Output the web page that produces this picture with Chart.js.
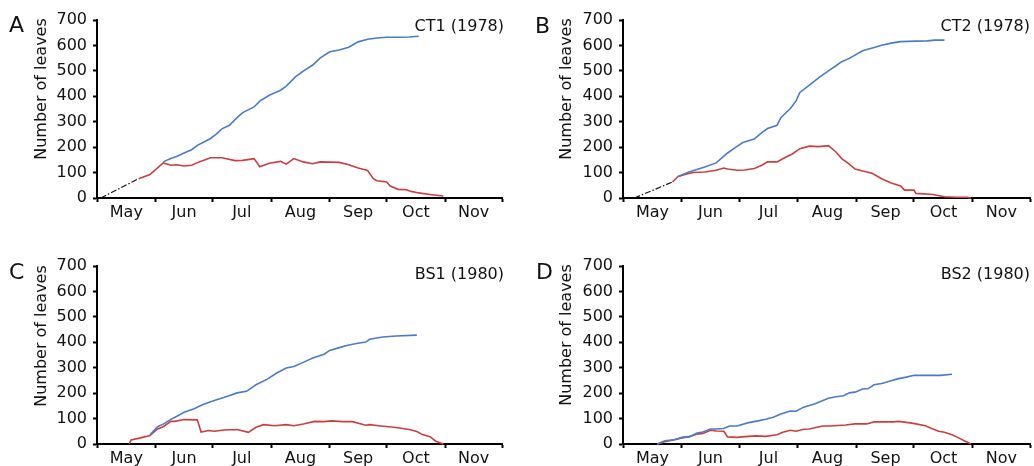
<!DOCTYPE html>
<html>
<head>
<meta charset="utf-8">
<script src="https://cdn.jsdelivr.net/npm/chart.js@4"></script>
<style>
  body { margin: 0; background: #fff; }
  #wrap { position: relative; width: 1034px; height: 466px; }
  .panel { position: absolute; width: 517px; height: 233px; }
</style>
</head>
<body>
<div id="wrap">
  <div class="panel" style="left:0;top:0"><canvas id="pA"></canvas></div>
  <div class="panel" style="left:517px;top:0"><canvas id="pB"></canvas></div>
  <div class="panel" style="left:0;top:233px"><canvas id="pC"></canvas></div>
  <div class="panel" style="left:517px;top:233px"><canvas id="pD"></canvas></div>
</div>
<script>
// x values are days after 1 May
const months = ["May", "Jun", "Jul", "Aug", "Sep", "Oct", "Nov"];
const monthStarts = [0, 31, 61, 92, 123, 153, 184, 214];
const yTicks = [0, 100, 200, 300, 400, 500, 600, 700];

// A - CT1 (1978)
const aBlackDays = [2, 22];
const aBlackVals = [0, 76];
const aBlueDays = [35, 39, 42, 46, 50, 53, 57, 60, 63, 66, 70, 74, 77, 83, 86, 91, 97, 100, 105, 109, 114, 118, 123, 128, 133, 138, 143, 148, 153, 160, 165, 170];
const aBlueVals = [142, 155, 163, 177, 190, 207, 222, 234, 251, 272, 286, 316, 336, 358, 381, 404, 424, 440, 477, 499, 523, 551, 575, 582, 593, 614, 624, 629, 632, 632, 633, 636];
const aRedDays = [22, 28, 35, 39, 42, 46, 50, 54, 60, 66, 73, 77, 83, 86, 91, 97, 100, 104, 109, 114, 118, 128, 133, 138, 143, 146, 148, 153, 155, 159, 163, 166, 170, 176, 183];
const aRedVals = [76, 92, 138, 129, 131, 126, 129, 142, 158, 158, 147, 148, 155, 123, 137, 144, 133, 155, 142, 135, 142, 140, 131, 118, 108, 76, 68, 63, 47, 34, 33, 26, 20, 14, 8];

// B - CT2 (1978)
const bBlackDays = [6, 26];
const bBlackVals = [0, 63];
const bBlueDays = [29, 34, 38, 43, 49, 55, 59, 63, 69, 73, 76, 81, 83, 88, 91, 93, 98, 103, 108, 112, 115, 119, 126, 132, 136, 141, 146, 154, 160, 164, 169];
const bBlueVals = [85, 100, 110, 122, 138, 177, 198, 218, 232, 257, 273, 286, 316, 352, 382, 415, 444, 473, 500, 520, 536, 549, 579, 592, 601, 609, 615, 617, 618, 621, 621];
const bRedDays = [26, 29, 34, 37, 43, 49, 53, 55, 60, 64, 69, 73, 76, 81, 85, 89, 93, 98, 103, 108, 112, 115, 119, 122, 126, 131, 136, 141, 146, 148, 153, 154, 163, 169, 175, 181, 183];
const bRedVals = [63, 85, 95, 100, 102, 109, 118, 114, 109, 110, 116, 129, 142, 142, 158, 173, 194, 204, 202, 206, 181, 155, 133, 114, 106, 97, 76, 59, 47, 31, 31, 18, 14, 5, 3, 3, 0];

// C - BS1 (1980)
const cBlueDays = [28, 32, 35, 39, 42, 46, 51, 56, 62, 69, 74, 79, 84, 90, 95, 100, 104, 109, 114, 120, 123, 128, 132, 137, 142, 144, 151, 158, 169];
const cBlueVals = [36, 68, 78, 97, 108, 125, 138, 155, 171, 188, 201, 207, 233, 255, 279, 299, 305, 321, 338, 353, 368, 379, 387, 395, 401, 412, 421, 425, 428];
const cRedDays = [17, 18, 23, 28, 32, 35, 39, 41, 46, 53, 55, 59, 62, 67, 74, 80, 84, 88, 94, 100, 104, 109, 115, 120, 124, 130, 135, 142, 144, 150, 157, 165, 169, 172, 176, 179, 183];
const cRedVals = [0, 16, 24, 33, 59, 68, 89, 89, 96, 95, 47, 53, 50, 55, 57, 46, 66, 76, 72, 76, 72, 79, 89, 88, 91, 88, 88, 74, 76, 71, 66, 57, 49, 37, 29, 11, 0];

// D - BS2 (1980)
const dBlueDays = [18, 22, 27, 31, 35, 39, 42, 46, 49, 53, 56, 60, 66, 71, 75, 79, 83, 88, 91, 95, 101, 108, 112, 116, 119, 122, 126, 129, 132, 136, 140, 145, 149, 153, 161, 167, 173];
const dBlueVals = [0, 13, 17, 26, 29, 43, 47, 59, 59, 61, 71, 71, 84, 91, 97, 105, 118, 130, 129, 145, 158, 180, 186, 190, 201, 204, 216, 218, 233, 238, 247, 257, 263, 270, 270, 270, 274];
const dRedDays = [18, 22, 27, 31, 35, 39, 42, 46, 49, 53, 55, 60, 64, 70, 75, 81, 84, 88, 91, 95, 98, 102, 105, 109, 117, 122, 128, 132, 136, 142, 145, 151, 154, 159, 162, 166, 169, 173, 176, 180, 183];
const dRedVals = [0, 9, 17, 24, 29, 39, 41, 54, 51, 50, 28, 26, 29, 32, 30, 36, 46, 54, 50, 58, 59, 66, 71, 71, 75, 79, 79, 87, 87, 87, 89, 83, 79, 72, 62, 50, 46, 36, 26, 11, 0];

const BLUE = "#4a7bc8";
const RED = "#cc3e3e";
const FONT = "'DejaVu Sans', sans-serif";

function pts(xs, ys) {
  return xs.map((x, i) => ({ x: x, y: ys[i] }));
}

// month boundaries get tick marks, month middles get the names
const monthMids = months.map((m, i) => (monthStarts[i] + monthStarts[i + 1]) / 2);

function makePanel(id, box, letter, title, series) {
  const W = 517, H = 233;
  const datasets = series.map(s => ({
    data: pts(s.x, s.y),
    borderColor: s.color,
    borderWidth: s.dash ? 1.2 : 1.6,
    borderDash: s.dash || [],
    pointRadius: 0,
    tension: 0,
    clip: false
  }));

  const labels = {
    id: "labels",
    afterDraw(chart) {
      const ctx = chart.ctx;
      ctx.save();
      ctx.fillStyle = "#111";
      ctx.textBaseline = "middle";
      ctx.font = "22px " + FONT;
      ctx.textAlign = "left";
      ctx.fillText(letter, box.lx, box.ly);
      ctx.font = "16px " + FONT;
      ctx.textAlign = "right";
      ctx.fillText(title, box.tx, box.ty);
      ctx.translate(box.yx, box.yy);
      ctx.rotate(-Math.PI / 2);
      ctx.textAlign = "center";
      ctx.fillText("Number of leaves", 0, 0);
      ctx.restore();
    }
  };

  return new Chart(document.getElementById(id), {
    type: "line",
    data: { datasets: datasets },
    plugins: [labels],
    options: {
      responsive: true,
      maintainAspectRatio: false,
      animation: false,
      layout: { padding: { left: 0, top: box.top, right: W - box.right, bottom: 0 } },
      plugins: { legend: { display: false }, tooltip: { enabled: false } },
      scales: {
        x: {
          type: "linear",
          min: 0,
          max: 214,
          afterFit: s => { s.height = H - box.bottom; },
          afterBuildTicks: s => {
            const t = monthStarts.concat(monthMids).sort((a, b) => a - b);
            s.ticks = t.map(v => ({ value: v }));
          },
          ticks: {
            autoSkip: false,
            maxRotation: 0,
            padding: 1,
            color: "#111",
            font: { family: FONT, size: 16 },
            callback: v => {
              const i = monthMids.indexOf(v);
              return i >= 0 ? months[i] : "";
            }
          },
          grid: {
            drawOnChartArea: false,
            tickLength: 4,
            tickWidth: 2,
            tickColor: c => (c.tick && monthStarts.includes(c.tick.value)) ? "#000" : "rgba(0,0,0,0)"
          },
          border: { color: "#000", width: 2 }
        },
        y: {
          min: 0,
          max: 700,
          afterFit: s => { s.width = box.left; },
          afterBuildTicks: s => { s.ticks = yTicks.map(v => ({ value: v })); },
          ticks: {
            padding: 6,
            color: "#111",
            font: { family: FONT, size: 16 }
          },
          grid: { drawOnChartArea: false, tickLength: 4, tickWidth: 2, tickColor: "#000" },
          border: { color: "#000", width: 2 }
        }
      }
    }
  });
}

const DASHDOT = [6, 2, 1.5, 2];

makePanel("pA",
  { left: 97, right: 502, top: 20, bottom: 198, lx: 9, ly: 26, tx: 504, ty: 27, yx: 42, yy: 89 },
  "A", "CT1 (1978)",
  [
    { x: aBlueDays, y: aBlueVals, color: BLUE },
    { x: aRedDays, y: aRedVals, color: RED },
    { x: aBlackDays, y: aBlackVals, color: "#111", dash: DASHDOT }
  ]);

makePanel("pB",
  { left: 106, right: 513, top: 20, bottom: 198, lx: 18, ly: 27, tx: 513, ty: 27, yx: 50, yy: 89 },
  "B", "CT2 (1978)",
  [
    { x: bBlueDays, y: bBlueVals, color: BLUE },
    { x: bRedDays, y: bRedVals, color: RED },
    { x: bBlackDays, y: bBlackVals, color: "#111", dash: DASHDOT }
  ]);

makePanel("pC",
  { left: 97, right: 502, top: 33, bottom: 211, lx: 9, ly: 40, tx: 504, ty: 42, yx: 42, yy: 103 },
  "C", "BS1 (1980)",
  [
    { x: cBlueDays, y: cBlueVals, color: BLUE },
    { x: cRedDays, y: cRedVals, color: RED }
  ]);

makePanel("pD",
  { left: 106, right: 513, top: 33, bottom: 211, lx: 19, ly: 40, tx: 513, ty: 42, yx: 50, yy: 102 },
  "D", "BS2 (1980)",
  [
    { x: dBlueDays, y: dBlueVals, color: BLUE },
    { x: dRedDays, y: dRedVals, color: RED }
  ]);
</script>
</body>
</html>
